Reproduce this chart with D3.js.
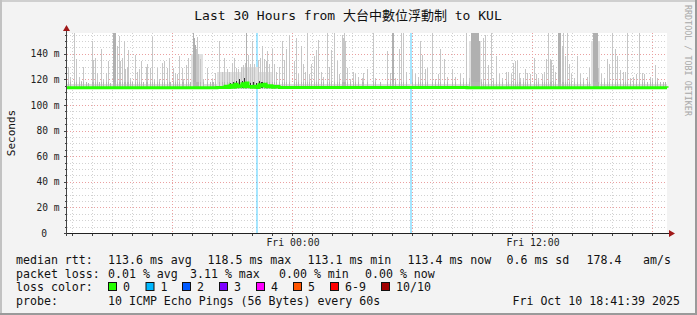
<!DOCTYPE html>
<html><head><meta charset="utf-8">
<script src="https://cdn.jsdelivr.net/npm/d3@7"></script>
<style>html,body{margin:0;padding:0;background:#fff}svg{display:block}</style>
</head><body><svg id="c" width="697" height="315"></svg>
<script>
// ---------------- data ----------------
const chartTitle = "Last 30 Hours from 大台中數位浮動制 to KUL";
const yAxisTitle = "Seconds";
const credit = "RRDTOOL / TOBI OETIKER";
const startTime = new Date(2025, 9, 9, 12, 45, 0);
const endTime = new Date(2025, 9, 10, 18, 45, 0);
const stepSec = 180; // RRD row step
const yMax = 156.25; // ms
const yTickValues = [0, 20, 40, 60, 80, 100, 120, 140];
const yTickLabels = ["0", "20 m", "40 m", "60 m", "80 m", "100 m", "120 m", "140 m"];
const xLabelTimes = [new Date(2025, 9, 10, 0, 0), new Date(2025, 9, 10, 12, 0)];
const xLabelTexts = ["Fri 00:00", "Fri 12:00"];

// smoke spikes: RRD row index and highest ping (ms)
const spikeRows = [1,3,7,9,12,14,16,19,21,25,26,28,30,32,34,36,39,41,43,46,47,48,50,52,53,55,57,58,60,61,63,65,68,70,72,74,76,79,80,83,85,87,90,92,95,97,100,102,103,106,108,110,112,115,116,119,121,123,126,127,128,129,130,131,133,136,140,143,146,
145,148,152,155,157,160,162,165,167,169,171,174,176,178,179,181,183,185,187,191,193,195,197,199,200,202,205,207,209,212,215,217,219,222,227,229,231,234,236,238,240,242,244,247,249,251,254,256,260,262,264,267,270,272,275,276,277,278,280,283,286,288,291,295,
296,300,306,308,313,320,323,325,326,328,332,334,336,339,345,348,351,353,355,358,360,365,368,371,373,377,380,385,388,393,396,399,402,404,405,406,407,408,409,410,411,412,414,416,418,421,424,426,429,432,435,439,441,444,446,
448,450,452,453,456,458,460,463,467,469,471,475,477,479,481,483,484,486,488,491,492,493,495,496,498,500,502,504,507,510,513,516,520,522,526,527,528,529,530,531,534,537,540,542,545,548,550,553,556,558,560,563,566,569,572,575,577,580,583,585,588,590,593,596,598];
const spikeMax = [130,122,156,136,122,119,130,118,117,150,135,137,125,118,144,120,125,134,117,156,156,156,146,154,134,137,150,128,130,143,121,118,139,126,128,134,118,130,132,129,153,120,129,120,133,134,129,137,118,129,125,124,138,129,120,131,137,118,156,152,147,144,153,140,136,120,129,118,118,
120,125,150,126,137,128,126,133,137,129,128,130,131,133,156,139,132,150,132,135,137,146,136,134,142,132,144,132,126,130,150,135,144,155,134,152,124,146,132,126,156,124,132,138,143,151,126,122,156,130,143,156,134,124,155,152,156,150,129,120,126,124,122,121,
125,128,156,121,118,142,125,156,156,121,144,156,156,126,128,124,122,150,139,128,129,156,120,124,144,136,122,128,122,124,121,156,121,156,156,156,156,156,156,156,156,150,120,152,155,131,156,121,138,124,121,126,126,124,133,
134,135,125,121,121,128,125,124,137,124,121,124,126,136,156,136,135,131,126,156,156,156,146,156,138,156,132,124,121,138,124,121,122,129,156,156,156,156,156,129,124,121,136,132,156,144,138,127,126,126,156,121,122,124,156,125,124,118,122,121,131,121,118,118,118];
// rows where several pings were high (darker smoke)
const denseRows = [46,47,48,126,127,128,179,325,326,404,405,406,407,408,409,410,411,412,491,492,493,526,527,528,529,530];
// broad smoke regions: first row, last row, top (ms)
const hazeFrom = [124, 150, 175, 402, 524];
const hazeTo = [135, 205, 190, 413, 532];
const hazeTop = [140, 126, 130, 150, 150];
const baseSmokeLow = 112.6, baseSmokeHigh = 116.2;
// dense core smoke near the median
const coreRows = [163,166,169,172,175,177,178,180,183,186,189,192,194,195,198,201];
const coreHigh = [117,118,119,120,119,121,118,118,117,118,117,119,118,118,117,116];
// median rtt (ms), change points by RRD row
const medianRows = [0,150,158,160,163,165,168,170,173,175,177,179,181,184,187,190,192,194,197,199,202,205,208,212,400,600];
const medianVals = [113.5,113.6,114.6,113.7,115.4,113.8,116.2,114.2,115,116.6,114.3,117.2,114.4,113.8,114.6,113.7,115.8,114.8,116.2,114.2,115,113.8,114.4,113.6,113.5,113.4];
// rows with 1/10 packet loss
const lossRows = [189, 190, 343, 344];
// legend
const lossLabels = ["0", "1", "2", "3", "4", "5", "6-9", "10/10"];
const lossColors = ["#26ff00", "#00b8ff", "#0059ff", "#7e00ff", "#ff00ff", "#ff5500", "#ff0000", "#a10000"];
const rttTexts = ["113.6 ms avg", "118.5 ms max", "113.1 ms min", "113.4 ms now", "0.6 ms sd", "178.4", "am/s"];
const lossTexts = ["0.01 % avg", "3.11 % max", "0.00 % min", "0.00 % now"];
const probeText = "10 ICMP Echo Pings (56 Bytes) every 60s";
const stampText = "Fri Oct 10 18:41:39 2025";

// ---------------- drawing ----------------
const W = 697, H = 315;
const L = 67, R = 667, T = 33, B = 233;
const svg = d3.select("#c");
const mono = "'DejaVu Sans Mono', 'Liberation Mono', monospace";
const rowTime = r => new Date(startTime.getTime() + r * stepSec * 1000);
const x = d3.scaleTime().domain([startTime, endTime]).range([L, R]);
const y = d3.scaleLinear().domain([0, yMax]).range([B, T]);
const px = v => Math.round(v);

// background + frame
svg.append("rect").attr("width", W).attr("height", H).attr("fill", "#f3f3f3");
svg.append("rect").attr("x", 0).attr("y", 0).attr("width", W).attr("height", 2).attr("fill", "#cfcfcf");
svg.append("rect").attr("x", 0).attr("y", 0).attr("width", 2).attr("height", H).attr("fill", "#c2c2c2");
svg.append("rect").attr("x", W - 2).attr("y", 0).attr("width", 2).attr("height", H).attr("fill", "#9a9a9a");
svg.append("rect").attr("x", 0).attr("y", H - 2).attr("width", W).attr("height", 2).attr("fill", "#9a9a9a");

// plot canvas
svg.append("rect").attr("x", L).attr("y", T).attr("width", R - L).attr("height", B - T).attr("fill", "#ffffff");

const g = svg.append("g").attr("shape-rendering", "crispEdges");

// grid
const hourTicks = d3.timeHour.every(1).range(startTime, endTime);
const minorY = d3.range(5, yMax, 5).filter(v => v % 20 !== 0);
g.selectAll(".hmin").data(minorY).join("line")
  .attr("x1", L).attr("x2", R)
  .attr("y1", d => px(y(d)) + 0.5).attr("y2", d => px(y(d)) + 0.5)
  .attr("stroke", "#d2d2d2").attr("stroke-dasharray", "1,2");
g.selectAll(".vmin").data(hourTicks.filter(t => t.getHours() % 6 !== 0)).join("line")
  .attr("x1", d => px(x(d)) + 0.5).attr("x2", d => px(x(d)) + 0.5)
  .attr("y1", T).attr("y2", B)
  .attr("stroke", "#d2d2d2").attr("stroke-dasharray", "1,2");
g.selectAll(".hmaj").data(yTickValues.filter(v => v > 0)).join("line")
  .attr("x1", L).attr("x2", R)
  .attr("y1", d => px(y(d)) + 0.5).attr("y2", d => px(y(d)) + 0.5)
  .attr("stroke", "#eaa0a0").attr("stroke-dasharray", "1,2");
g.selectAll(".vmaj").data(hourTicks.filter(t => t.getHours() % 6 === 0)).join("line")
  .attr("x1", d => px(x(d)) + 0.5).attr("x2", d => px(x(d)) + 0.5)
  .attr("y1", T).attr("y2", B)
  .attr("stroke", "#eaa0a0").attr("stroke-dasharray", "1,2");

// loss bars
g.selectAll(".loss").data(lossRows).join("rect")
  .attr("x", r => px(x(rowTime(r)))).attr("width", r => Math.max(1, px(x(rowTime(r + 1))) - px(x(rowTime(r)))))
  .attr("y", T).attr("height", B - T)
  .attr("fill", lossColors[1]).attr("opacity", 0.35);

// base smoke band
g.append("rect").attr("x", L).attr("width", R - L)
  .attr("y", px(y(baseSmokeHigh))).attr("height", px(y(baseSmokeLow)) - px(y(baseSmokeHigh)))
  .attr("fill", "#dcdcdc");

// haze regions
g.selectAll(".haze").data(hazeFrom.map((f, i) => ({f, t: hazeTo[i], top: hazeTop[i]}))).join("rect")
  .attr("x", d => px(x(rowTime(d.f)))).attr("width", d => px(x(rowTime(d.t + 1))) - px(x(rowTime(d.f))))
  .attr("y", d => px(y(d.top))).attr("height", d => px(y(baseSmokeLow)) - px(y(d.top)))
  .attr("fill", "#e0e0e0");

// spikes
const spikes = spikeRows.map((r, i) => ({r, v: Math.min(spikeMax[i], yMax), dense: denseRows.includes(r)}));
g.selectAll(".spike").data(spikes).join("rect")
  .attr("x", d => px(x(rowTime(d.r)))).attr("width", 1)
  .attr("y", d => px(y(d.v))).attr("height", d => px(y(baseSmokeLow)) - px(y(d.v)))
  .attr("fill", d => d.dense ? "#b0b0b0" : "#c6c6c6");
// lower darker part of spikes
g.selectAll(".spikelow").data(spikes).join("rect")
  .attr("x", d => px(x(rowTime(d.r)))).attr("width", 1)
  .attr("y", d => px(y(Math.min(d.v, 118)))).attr("height", d => px(y(baseSmokeLow)) - px(y(Math.min(d.v, 118))))
  .attr("fill", "#b4b4b4");

// core smoke
g.selectAll(".core").data(coreRows.map((r, i) => ({r, h: coreHigh[i]}))).join("rect")
  .attr("x", d => px(x(rowTime(d.r)))).attr("width", 1)
  .attr("y", d => px(y(d.h))).attr("height", d => px(y(113.4)) - px(y(d.h)))
  .attr("fill", "#333");

// median line
const medPts = medianRows.map((r, i) => [rowTime(r), medianVals[i]]);
const medLine = d3.line().x(d => x(d[0])).y(d => y(d[1])).curve(d3.curveStepAfter);
svg.append("path").datum(medPts).attr("d", medLine)
  .attr("fill", "none").attr("stroke", lossColors[0]).attr("stroke-width", 3);
// median colored by loss
const medAt = r => { let v = medianVals[0]; medianRows.forEach((mr, i) => { if (mr <= r) v = medianVals[i]; }); return v; };
g.selectAll(".lossmed").data(lossRows).join("rect")
  .attr("x", r => px(x(rowTime(r)))).attr("width", 1)
  .attr("y", r => y(medAt(r)) - 1.5).attr("height", 3)
  .attr("fill", lossColors[1]);

// axes
const ax = svg.append("g").attr("shape-rendering", "crispEdges");
ax.append("line").attr("x1", L).attr("x2", R + 3).attr("y1", B + 0.5).attr("y2", B + 0.5).attr("stroke", "#222");
ax.append("line").attr("x1", L - 0.5).attr("x2", L - 0.5).attr("y1", T - 4).attr("y2", B + 3).attr("stroke", "#444");
// x ticks
ax.selectAll(".xt").data(hourTicks).join("line")
  .attr("x1", d => px(x(d)) + 0.5).attr("x2", d => px(x(d)) + 0.5)
  .attr("y1", B + 1).attr("y2", B + 3).attr("stroke", "#444");
// y ticks
ax.selectAll(".yt").data(d3.range(0, yMax, 5)).join("line")
  .attr("x1", d => L - (d % 20 === 0 ? 3 : 2)).attr("x2", L - 1)
  .attr("y1", d => px(y(d)) + 0.5).attr("y2", d => px(y(d)) + 0.5).attr("stroke", "#444");
// arrows
svg.append("path").attr("d", `M${R + 2},${B - 3} L${R + 8},${B + 0.5} L${R + 2},${B + 4} Z`).attr("fill", "#a01818");
svg.append("path").attr("d", `M${L - 4},${T - 2} L${L - 0.5},${T - 8} L${L + 3},${T - 2} Z`).attr("fill", "#a01818");

// y labels
svg.selectAll(".yl").data(yTickValues).join("text")
  .attr("x", (d, i) => i === 0 ? 47 : 59.5).attr("y", d => y(d) + 3.5)
  .attr("text-anchor", "end").attr("font-family", mono).attr("font-size", "9.6px").attr("fill", "#222")
  .text((d, i) => yTickLabels[i]);
// x labels
svg.selectAll(".xl").data(xLabelTimes).join("text")
  .attr("x", d => x(d) + 1).attr("y", 246)
  .attr("text-anchor", "middle").attr("font-family", mono).attr("font-size", "9.8px").attr("fill", "#222")
  .text((d, i) => xLabelTexts[i]);

// title
svg.append("text").attr("x", 348).attr("y", 20).attr("text-anchor", "middle")
  .attr("font-family", mono + ", 'Noto Sans CJK TC'").attr("font-size", "13px").attr("fill", "#111")
  .text(chartTitle);
// y axis title
svg.append("text").attr("transform", "translate(15,133) rotate(-90)").attr("text-anchor", "middle")
  .attr("font-family", mono).attr("font-size", "11px").attr("fill", "#111").text(yAxisTitle);
// credit
svg.append("text").attr("transform", "translate(685,5) rotate(90)").attr("text-anchor", "start")
  .attr("font-family", mono).attr("font-size", "8.4px").attr("fill", "#a8a8a8").text(credit);

// legend
const lg = svg.append("g").attr("font-family", mono).attr("font-size", "11.6px").attr("fill", "#111");
const rows = [264, 278, 291, 305];
lg.append("text").attr("x", 16).attr("y", rows[0]).text("median rtt:");
const rttX = [108, 207.5, 307.5, 407.5, 506.5, 586.5, 643];
rttTexts.forEach((t, i) => lg.append("text").attr("x", rttX[i]).attr("y", rows[0]).text(t));
lg.append("text").attr("x", 16).attr("y", rows[1]).text("packet loss:");
const lossX = [108, 190, 279, 365];
lossTexts.forEach((t, i) => lg.append("text").attr("x", lossX[i]).attr("y", rows[1]).text(t));
lg.append("text").attr("x", 16).attr("y", rows[2]).text("loss color:");
const swX = [108, 145.5, 182, 219, 256, 293, 330, 381];
lossLabels.forEach((t, i) => {
  lg.append("rect").attr("x", swX[i] + 0.5).attr("y", rows[2] - 8.5).attr("width", 8).attr("height", 8)
    .attr("fill", lossColors[i]).attr("stroke", "#111").attr("stroke-width", 1);
  lg.append("text").attr("x", swX[i] + 15).attr("y", rows[2]).text(t);
});
lg.append("text").attr("x", 16).attr("y", rows[3]).text("probe:");
lg.append("text").attr("x", 108).attr("y", rows[3]).text(probeText);
lg.append("text").attr("x", 680).attr("y", rows[3]).attr("text-anchor", "end").text(stampText);
</script></body></html>
